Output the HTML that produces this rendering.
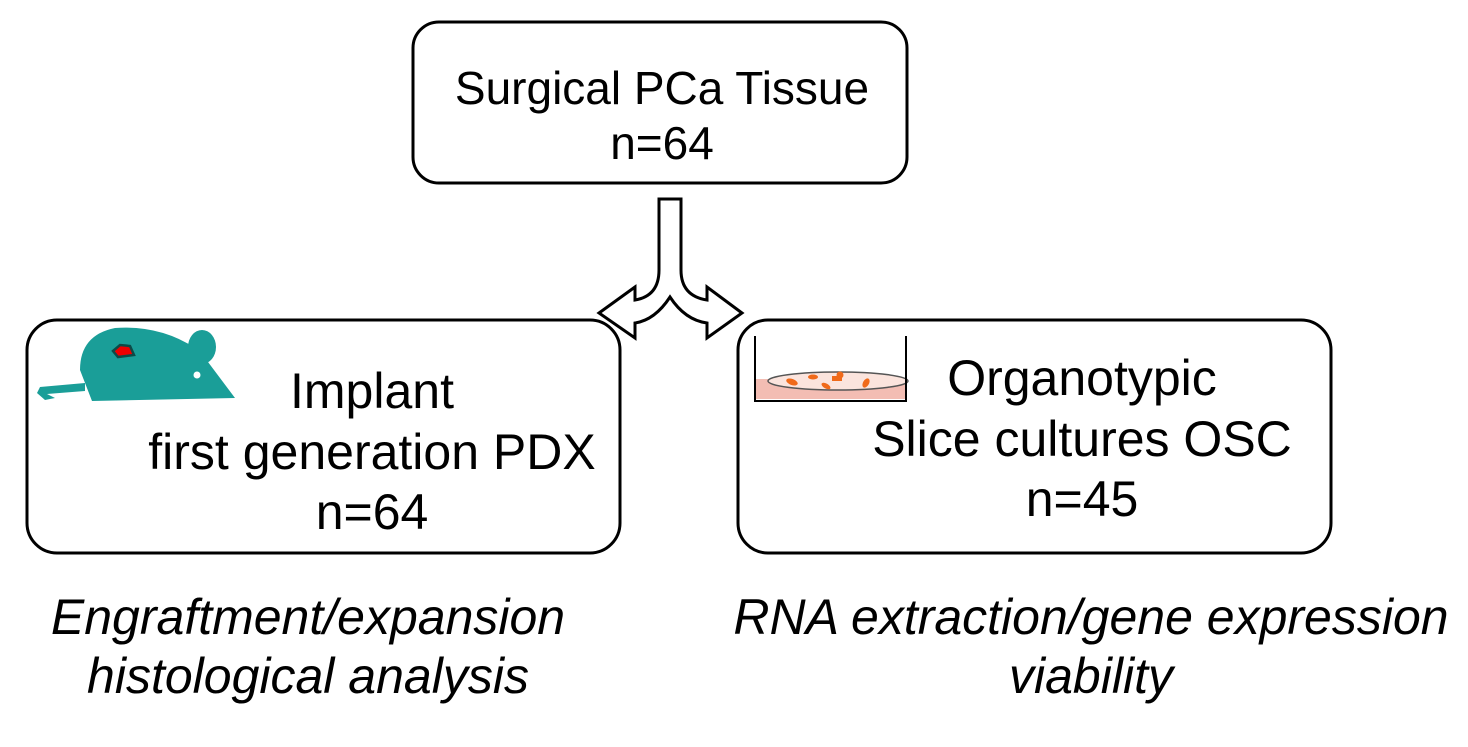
<!DOCTYPE html>
<html><head><style>
body{margin:0;background:#fff;}
svg{display:block;font-family:"Liberation Sans",Arial,sans-serif;}
</style></head><body>
<svg width="1468" height="747" viewBox="0 0 1468 747">
<rect x="413" y="22" width="494" height="161" rx="26" fill="#fff" stroke="#000" stroke-width="3"/>
<rect x="27" y="320" width="593" height="233" rx="30" fill="#fff" stroke="#000" stroke-width="3"/>
<rect x="738" y="320" width="593" height="233" rx="30" fill="#fff" stroke="#000" stroke-width="3"/>
<path d="M659,199 L681,199 L681,270 Q681,296 707,300 L707,287 L742,313 L707,338 L707,323 Q685,320 670,297 Q655,320 635,323 L635,338 L599,313 L635,287 L635,300 Q659,296 659,270 Z" fill="#fff" stroke="#000" stroke-width="3" stroke-linejoin="miter"/>
<g fill="#1a9e98">
<path d="M92,401 L80,370 Q80,335 115,328 Q160,325 195,348 L208,362 L235,398 Z"/>
<ellipse cx="202" cy="347" rx="14" ry="17"/>
<path d="M85,383 L40,387 L37,393 L45,400 L55,398 L47,394 L85,391 Z"/>
</g>
<path d="M113,351 L120,345 L130,346 L134,355 L118,357 Z" fill="#e00" stroke="#0d4a47" stroke-width="2.5"/>
<circle cx="197" cy="375" r="3.5" fill="#fff"/>
<rect x="756" y="379" width="150" height="20" fill="#f3bdb3"/>
<ellipse cx="838" cy="381" rx="70" ry="9" fill="#fbe4dd" stroke="#555" stroke-width="1.5"/>
<path d="M755,336 L755,401 L906,401 L906,336" fill="none" stroke="#000" stroke-width="2"/>
<g fill="#f06a1a">
<ellipse cx="792" cy="382" rx="6" ry="3" transform="rotate(20 792 382)"/>
<ellipse cx="813" cy="377" rx="5" ry="2.5"/>
<ellipse cx="826" cy="386" rx="5" ry="2.5" transform="rotate(30 826 386)"/>
<rect x="832" y="376" width="10" height="5"/>
<circle cx="840" cy="375" r="3.5"/>
<ellipse cx="866" cy="383" rx="3" ry="5" transform="rotate(30 866 383)"/>
</g>
<g font-size="46" text-anchor="middle" fill="#000">
<text x="662" y="104">Surgical PCa Tissue</text>
<text x="662" y="159">n=64</text>
</g>
<g font-size="50" text-anchor="middle" fill="#000">
<text x="372" y="408">Implant</text>
<text x="372" y="469">first generation PDX</text>
<text x="372" y="529">n=64</text>
<text x="1082" y="395">Organotypic</text>
<text x="1082" y="456">Slice cultures OSC</text>
<text x="1082" y="516">n=45</text>
</g>
<g font-size="50" font-style="italic" text-anchor="middle" fill="#000">
<text x="308" y="634">Engraftment/expansion</text>
<text x="308" y="693">histological analysis</text>
<text x="1091" y="634">RNA extraction/gene expression</text>
<text x="1091" y="693">viability</text>
</g>
</svg>
</body></html>
